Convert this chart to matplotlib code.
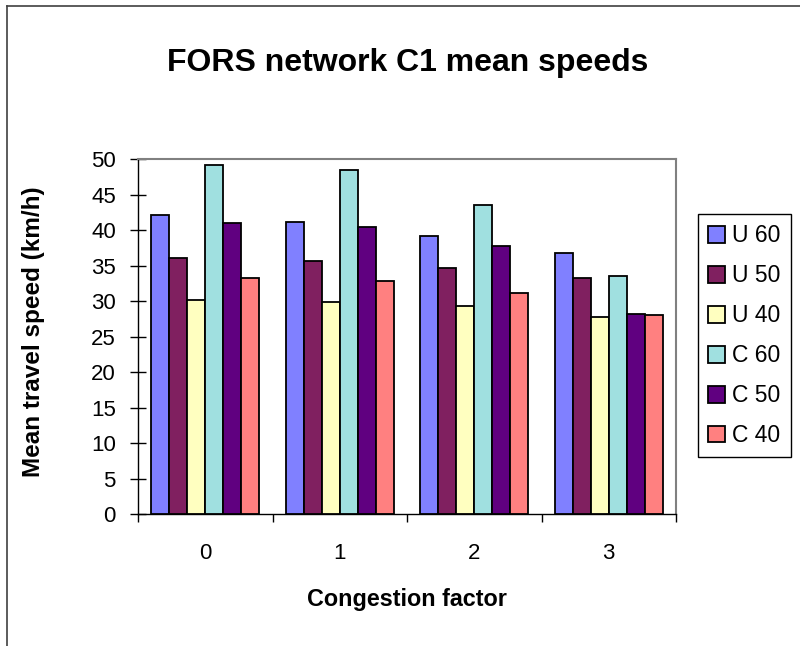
import numpy as np
import matplotlib
matplotlib.use("Agg")
import matplotlib.pyplot as plt
from matplotlib.lines import Line2D

plt.rcParams['font.family'] = ['Liberation Sans', 'DejaVu Sans']

categories = ["0", "1", "2", "3"]
series_names = ["U 60", "U 50", "U 40", "C 60", "C 50", "C 40"]
u60 = [42.1, 41.2, 39.2, 36.7]
u50 = [36.1, 35.6, 34.7, 33.3]
u40 = [30.2, 29.9, 29.35, 27.7]
c60 = [49.1, 48.5, 43.5, 33.6]
c50 = [41.0, 40.4, 37.8, 28.2]
c40 = [33.3, 32.8, 31.1, 28.0]
series_values = [u60, u50, u40, c60, c50, c40]
colors = ["#8080FF", "#802060", "#FFFFC0", "#A0E0E0", "#600080", "#FF8080"]

fig = plt.figure(figsize=(8.0, 6.46), dpi=100)
ax = fig.add_axes([0.1725, 0.2039, 0.6725, 0.5500])

n = len(series_names)
group_w = 0.805
bar_w = group_w / n
x = np.arange(len(categories))
for i, (name, vals, col) in enumerate(zip(series_names, series_values, colors)):
    offs = -group_w / 2 + bar_w * (i + 0.5)
    ax.bar(x + offs, vals, width=bar_w, color=col, edgecolor="black",
           linewidth=1.3, label=name, zorder=3)

ax.set_xlim(-0.5, len(categories) - 0.5)
ax.set_ylim(0, 50)
ax.set_yticks(np.arange(0, 51, 5))
ax.tick_params(axis="y", direction="inout", length=12, width=1, labelsize=16, pad=10)

# category labels centred, ticks on group boundaries
ax.set_xticks(x)
ax.set_xticklabels(categories, fontsize=16)
ax.tick_params(axis="x", which="major", length=0, pad=21)
ax.set_xticks(np.arange(-0.5, len(categories), 1.0), minor=True)
ax.tick_params(axis="x", which="minor", direction="out", length=6, width=1)

for side in ["top", "right"]:
    ax.spines[side].set_color("#808080")
    ax.spines[side].set_linewidth(1.5)
for side in ["left", "bottom"]:
    ax.spines[side].set_color("black")
    ax.spines[side].set_linewidth(1.0)

ax.set_ylabel("Mean travel speed (km/h)", fontsize=17.5, fontweight="bold", va="center")
ax.yaxis.set_label_coords(-0.195, 0.513)
ax.set_xlabel("Congestion factor", fontsize=16.8, fontweight="bold", va="center")
ax.xaxis.set_label_coords(0.5, -0.241)
fig.text(0.51, 0.9025, "FORS network C1 mean speeds", ha="center", va="center",
         fontsize=23, fontweight="bold")

leg = ax.legend(loc="upper left", bbox_to_anchor=(1.041, 0.845), fontsize=16.5,
                frameon=True, fancybox=False, edgecolor="black", framealpha=1,
                handlelength=0.74, handleheight=0.74, handletextpad=0.3,
                labelspacing=0.74, borderpad=0.45, borderaxespad=0)
leg.get_frame().set_linewidth(1.0)

# outer chart frame (left and top edges)
fig.add_artist(Line2D([0.0088, 0.0088], [0.0, 0.991], transform=fig.transFigure,
                      color="#404040", linewidth=1.2))
fig.add_artist(Line2D([0.0088, 1.0], [0.991, 0.991], transform=fig.transFigure,
                      color="#404040", linewidth=1.2))

fig.savefig("out.png", dpi=100)
